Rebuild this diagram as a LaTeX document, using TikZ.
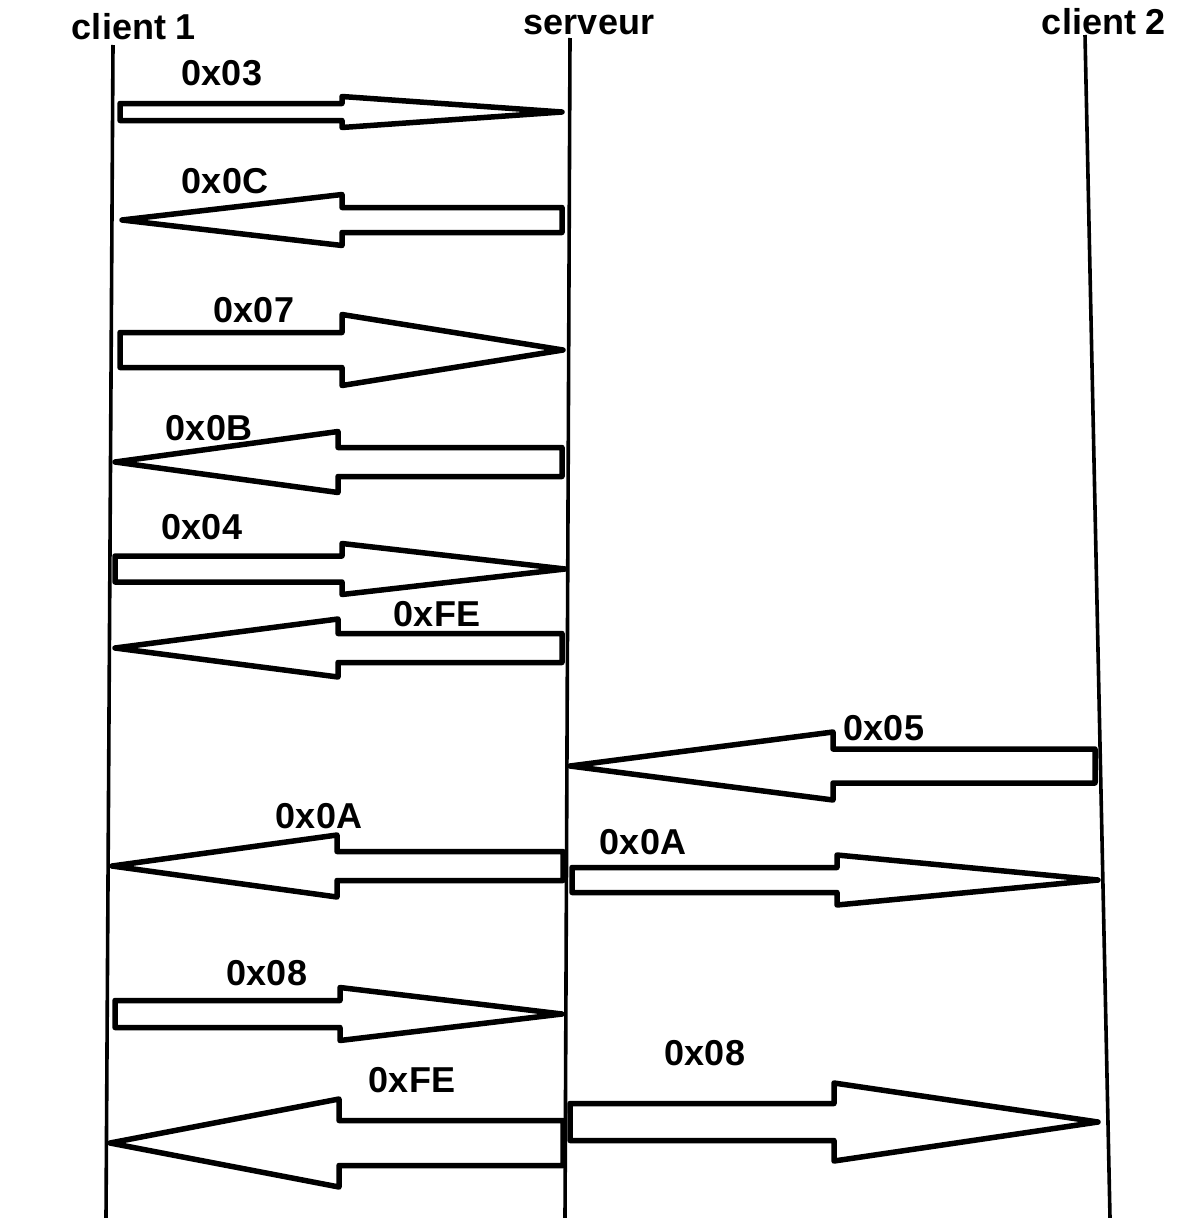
\documentclass[tikz,border=0pt]{standalone}
\usepackage{fontspec}
\setmainfont{Liberation Sans}
\begin{document}
\begin{tikzpicture}[x=1pt,y=-1pt,
  lifeline/.style={line width=3.6pt},
  blk/.style={line width=5.5pt,line join=round,fill=white},
  lbl/.style={font=\fontsize{36}{40}\selectfont\bfseries,anchor=base,inner sep=0pt}]
\useasboundingbox[fill=white] (0,0) rectangle (1194,1218);
% lifelines
\coordinate (c1top) at (113,45);  \coordinate (c1bot) at (106,1218);
\coordinate (svtop) at (570,38);  \coordinate (svbot) at (565,1218);
\coordinate (c2top) at (1085,35); \coordinate (c2bot) at (1110,1218);
\draw[lifeline] (c1top) -- (c1bot);
\draw[lifeline] (svtop) -- (svbot);
\draw[lifeline] (c2top) -- (c2bot);
\node[lbl] (client1) at (134,39) {client 1};
\node[lbl] (serveur) at (589,34) {serveur};
\node[lbl] (client2) at (1104,34) {client 2};
% block arrow: tail x, tip x, y, shaft half, head half, head base x
\newcommand\blockarr[6]{%
  \draw[blk] (#1,{#3-#4}) -- (#6,{#3-#4}) -- (#6,{#3-#5}) -- (#2,#3)
    -- (#6,{#3+#5}) -- (#6,{#3+#4}) -- (#1,{#3+#4}) -- cycle;}
\blockarr{120}{562}{112}{8.5}{15.5}{342}
\node[lbl] (m1) at (222,85) {0x03};
\blockarr{562}{122}{220}{12.5}{25.5}{342}
\node[lbl] (m2) at (225,193) {0x0C};
\blockarr{120}{563}{350}{17.5}{35.5}{342}
\node[lbl] (m3) at (254,322) {0x07};
\blockarr{562}{115}{462}{14.5}{30.5}{338}
\node[lbl] (m4) at (209,440) {0x0B};
\blockarr{115}{565}{569}{13}{25.5}{342}
\node[lbl] (m5) at (202,539) {0x04};
\blockarr{562}{115}{648}{14.5}{29}{338}
\node[lbl] (m6) at (437,626) {0xFE};
\blockarr{1095}{570}{766}{17}{34}{833}
\node[lbl] (m7) at (884,740) {0x05};
\blockarr{563}{112}{866}{14.5}{31}{337}
\node[lbl] (m8) at (319,828) {0x0A};
\blockarr{572}{1098}{880}{12.5}{25}{837}
\node[lbl] (m9) at (643,854) {0x0A};
\blockarr{115}{562}{1014}{13.5}{26.5}{340}
\node[lbl] (m10) at (267,985) {0x08};
\blockarr{563}{110}{1143}{22.5}{44}{339}
\node[lbl] (m11) at (412,1092) {0xFE};
\blockarr{570}{1098}{1122}{18.5}{39}{834}
\node[lbl] (m12) at (705,1065) {0x08};
\end{tikzpicture}
\end{document}
